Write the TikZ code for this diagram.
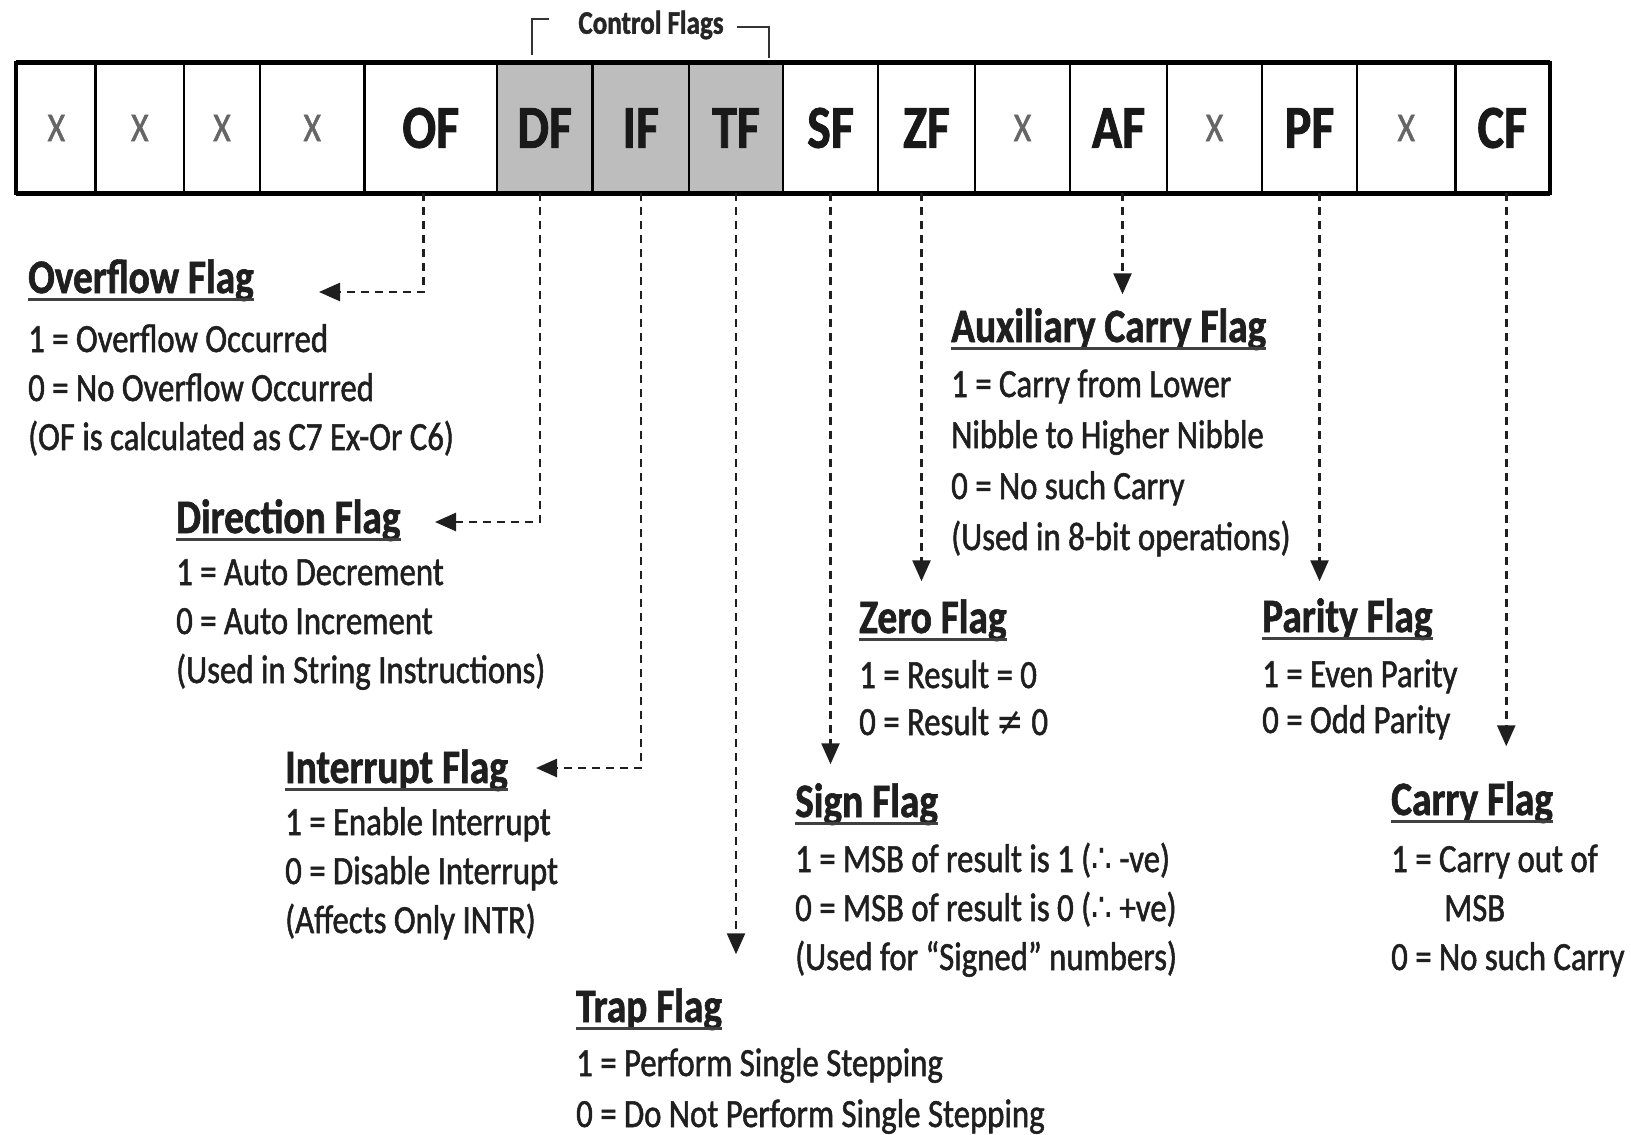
\documentclass[tikz,border=0pt]{standalone}
\usepackage{fontspec}
\setmainfont{Carlito}[FakeStretch=0.82, RawFeature={embolden=1.3}]
\newfontfamily\symfont{DejaVu Sans}[FakeStretch=0.82]
\usetikzlibrary{arrows.meta,calc}

\tikzset{
  flagbit/.style={draw=black, line width=2.5pt, minimum height=128pt, inner sep=0pt,
    font=\fontsize{61}{61}\selectfont\bfseries, text=black!90},
  sparebit/.style={flagbit, font=\fontsize{41}{41}\selectfont, text=black!60},
  ctrlbit/.style={flagbit, fill=black!26},
  flagtitle/.style={anchor=base west, inner sep=0pt,
    font=\fontsize{48}{50}\selectfont\bfseries, text=black!88},
  flagline/.style={anchor=base west, inner sep=0pt,
    font=\fontsize{40}{42}\selectfont, text=black!88},
  titlerule/.style={line width=3pt, draw=black!75},
  flow/.style={line width=2.6pt, draw=black!88, dash pattern=on 8pt off 6pt,
    -{Triangle[length=21pt,width=18pt]}},
  bracket/.style={line width=2.5pt, draw=black!80},
}

% title (underlined) followed by its description lines
% #1 name, #2 x, #3 title baseline, #4 first line baseline, #5 line step, #6 title, #7 lines
\newcommand\flagblock[7]{%
  \node[flagtitle] (#1) at (#2,-#3) {#6};
  \draw[titlerule] ([yshift=-6pt]#1.base west) -- ([yshift=-6pt]#1.base east);
  \foreach \ln [count=\k from 0] in {#7}{
    \node[flagline] (#1-\k) at (#2,{-#4-#5*\k}) {\ln};
  }%
}

\begin{document}
\begin{tikzpicture}[x=1pt,y=1pt]
\useasboundingbox (0,0) rectangle (1631,-1135);

% the 16-bit flag register
\node[sparebit, minimum width=78.7pt]  (cX1) at (56.35,-128)  {X};
\node[sparebit, minimum width=88.3pt]  (cX2) at (139.85,-128) {X};
\node[sparebit, minimum width=76pt]    (cX3) at (222,-128)    {X};
\node[sparebit, minimum width=104.5pt] (cX4) at (312.25,-128) {X};
\node[flagbit,  minimum width=132.5pt] (cOF) at (430.75,-128) {OF};
\node[ctrlbit,  minimum width=95.6pt]  (cDF) at (544.8,-128)  {DF};
\node[ctrlbit,  minimum width=96.4pt]  (cIF) at (640.8,-128)  {IF};
\node[ctrlbit,  minimum width=94pt]    (cTF) at (736,-128)    {TF};
\node[flagbit,  minimum width=95pt]    (cSF) at (830.5,-128)  {SF};
\node[flagbit,  minimum width=97pt]    (cZF) at (926.5,-128)  {ZF};
\node[sparebit, minimum width=95pt]    (cX5) at (1022.5,-128) {X};
\node[flagbit,  minimum width=97pt]    (cAF) at (1118.5,-128) {AF};
\node[sparebit, minimum width=95pt]    (cX6) at (1214.5,-128) {X};
\node[flagbit,  minimum width=95pt]    (cPF) at (1309.5,-128) {PF};
\node[sparebit, minimum width=98.5pt]  (cX7) at (1406.25,-128) {X};
\node[flagbit,  minimum width=93.5pt]  (cCF) at (1502.25,-128) {CF};

% heavier outer frame
\draw[line width=3pt] (cX1.north west) rectangle (cCF.south east);
\draw[line width=5pt] (cX1.north west) -- (cCF.north east);
\draw[line width=5pt] (cX1.south west) -- (cCF.south east);

% control flags bracket
\node[inner sep=0pt, font=\fontsize{33}{33}\selectfont\bfseries, text=black!85] (ctl) at (651,-25) {Control Flags};
\draw[bracket] (532,-55) |- (549,-19);
\draw[bracket] (737,-27) -| (769,-58);

% descriptions
\flagblock{ovf}{28}{293}{352}{49}{Overflow Flag}
  {{1 = Overflow Occurred},{0 = No Overflow Occurred},{(OF is calculated as C7 Ex-Or C6)}}
\flagblock{dir}{176}{533}{585}{49}{Direction Flag}
  {{1 = Auto Decrement},{0 = Auto Increment},{(Used in String Instructions)}}
\flagblock{intr}{285}{783}{835}{49}{Interrupt Flag}
  {{1 = Enable Interrupt},{0 = Disable Interrupt},{(Affects Only INTR)}}
\flagblock{trap}{576}{1022}{1076}{51}{Trap Flag}
  {{1 = Perform Single Stepping},{0 = Do Not Perform Single Stepping}}
\flagblock{sign}{795}{817}{872}{49}{Sign Flag}
  {{1 = MSB of result is 1 ({\symfont ∴} -ve)},{0 = MSB of result is 0 ({\symfont ∴} +ve)},{(Used for “Signed” numbers)}}
\flagblock{zero}{859}{633}{688}{47}{Zero Flag}
  {{1 = Result = 0},{0 = Result {\symfont ≠} 0}}
\flagblock{aux}{951}{342}{397}{51}{Auxiliary Carry Flag}
  {{1 = Carry from Lower},{Nibble to Higher Nibble},{0 = No such Carry},{(Used in 8-bit operations)}}
\flagblock{par}{1262}{632}{687}{46}{Parity Flag}
  {{1 = Even Parity},{0 = Odd Parity}}
\flagblock{cry}{1391}{815}{872}{49}{Carry Flag}
  {{1 = Carry out of},{\hspace*{53pt}MSB},{0 = No such Carry}}

% connectors from the bits to their descriptions
\coordinate (ofTip) at (319,-292);
\coordinate (dfTip) at (435,-522);
\coordinate (ifTip) at (536,-768);
\draw[flow] ([xshift=-7pt]cOF.south) |- (ofTip);
\draw[flow] ([xshift=-5pt]cDF.south) |- (dfTip);
\draw[flow] (cIF.south) |- (ifTip);
\draw[flow] (cTF.south) -- ++(0,-761);
\draw[flow] (cSF.south) -- ++(0,-571);
\draw[flow] ([xshift=-5pt]cZF.south) -- ++(0,-388);
\draw[flow] ([xshift=4pt]cAF.south) -- ++(0,-101);
\draw[flow] ([xshift=10pt]cPF.south) -- ++(0,-388);
\draw[flow] ([xshift=4pt]cCF.south) -- ++(0,-553);
\end{tikzpicture}
\end{document}
